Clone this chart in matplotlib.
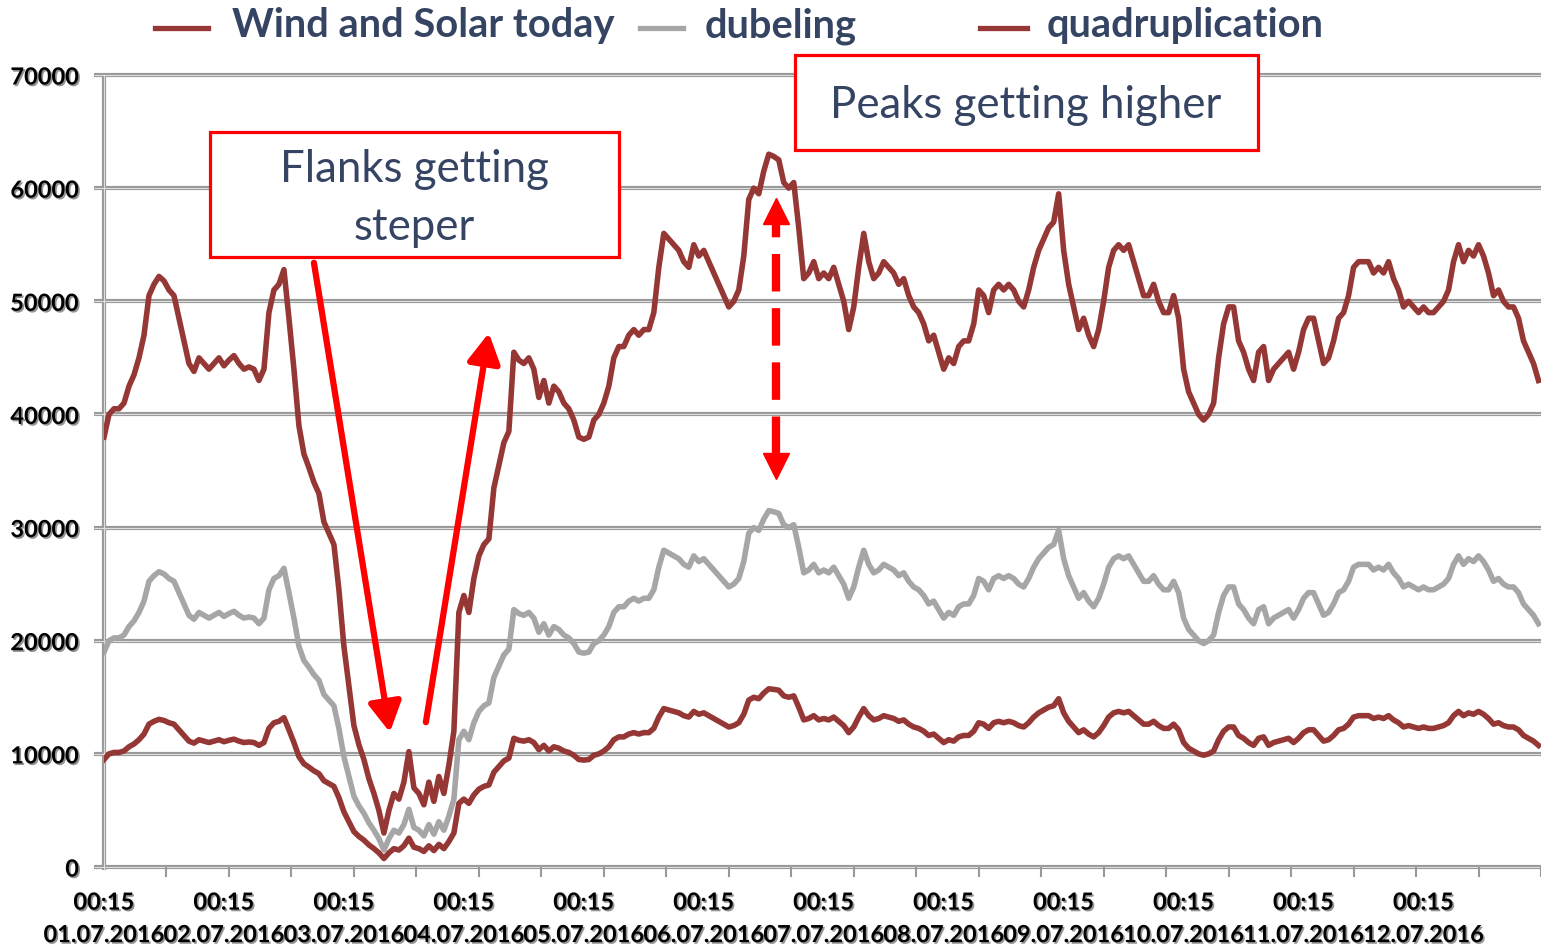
import matplotlib
matplotlib.use("Agg")
import matplotlib.pyplot as plt
import matplotlib.patheffects as pe
from matplotlib.lines import Line2D
from matplotlib.patches import Rectangle
import numpy as np

plt.rcParams['font.family'] = ['Lato', 'DejaVu Sans']

# hourly values, 01.07.2016 00:15 .. 12.07.2016 23:15 (MW)
days = ['01.07.2016', '02.07.2016', '03.07.2016', '04.07.2016', '05.07.2016', '06.07.2016',
        '07.07.2016', '08.07.2016', '09.07.2016', '10.07.2016', '11.07.2016', '12.07.2016']

today = [
    9500, 10000, 10125, 10125, 10250, 10625, 10875, 11250, 11750, 12625, 12875, 13050,
    12950, 12750, 12625, 12125, 11625, 11125, 10950, 11250, 11125, 11000, 11125, 11250,
    11075, 11200, 11300, 11125, 11000, 11050, 11000, 10750, 11000, 12250, 12750, 12875,
    13200, 12125, 11000, 9750, 9125, 8825, 8500, 8250, 7625, 7375, 7125, 6125,
    4875, 4000, 3125, 2700, 2375, 1950, 1625, 1250, 750, 1250, 1625, 1500,
    1875, 2550, 1750, 1625, 1375, 1875, 1450, 2000, 1625, 2250, 3000, 5625,
    6000, 5625, 6375, 6875, 7125, 7250, 8375, 8875, 9375, 9625, 11375, 11200,
    11125, 11250, 11000, 10375, 10750, 10250, 10625, 10500, 10250, 10125, 9875, 9500,
    9450, 9500, 9875, 10000, 10250, 10625, 11250, 11500, 11500, 11750, 11875, 11750,
    11875, 11875, 12250, 13250, 14000, 13875, 13750, 13625, 13375, 13250, 13750, 13500,
    13625, 13375, 13125, 12875, 12625, 12375, 12500, 12750, 13500, 14750, 15000, 14875,
    15375, 15750, 15700, 15625, 15125, 15000, 15125, 14125, 13000, 13125, 13375, 13000,
    13125, 13000, 13250, 12875, 12500, 11875, 12375, 13250, 14000, 13375, 13000, 13125,
    13375, 13250, 13125, 12875, 13000, 12625, 12375, 12250, 12000, 11625, 11750, 11375,
    11000, 11250, 11125, 11500, 11625, 11625, 12000, 12750, 12625, 12250, 12750, 12875,
    12750, 12875, 12750, 12500, 12375, 12750, 13250, 13625, 13875, 14125, 14250, 14875,
    13625, 12875, 12375, 11875, 12125, 11750, 11500, 11875, 12500, 13250, 13625, 13750,
    13625, 13750, 13375, 13000, 12625, 12625, 12875, 12500, 12250, 12250, 12625, 12125,
    11000, 10500, 10250, 10000, 9875, 10000, 10250, 11250, 12000, 12375, 12375, 11625,
    11375, 11000, 10750, 11375, 11500, 10750, 11000, 11125, 11250, 11375, 11000, 11375,
    11875, 12125, 12125, 11625, 11125, 11250, 11625, 12125, 12250, 12625, 13250, 13375,
    13375, 13375, 13125, 13250, 13125, 13375, 13000, 12750, 12375, 12500, 12375, 12250,
    12375, 12250, 12250, 12375, 12500, 12750, 13375, 13750, 13375, 13625, 13500, 13750,
    13500, 13125, 12625, 12750, 12500, 12375, 12375, 12125, 11625, 11375, 11125, 10750,
]

doubling = [
    19000, 20000, 20250, 20250, 20500, 21250, 21750, 22500, 23500, 25250, 25750, 26100,
    25900, 25500, 25250, 24250, 23250, 22250, 21900, 22500, 22250, 22000, 22250, 22500,
    22150, 22400, 22600, 22250, 22000, 22100, 22000, 21500, 22000, 24500, 25500, 25750,
    26400, 24250, 22000, 19500, 18250, 17650, 17000, 16500, 15250, 14750, 14250, 12250,
    9750, 8000, 6250, 5400, 4750, 3900, 3250, 2500, 1500, 2500, 3250, 3000,
    3750, 5100, 3500, 3250, 2750, 3750, 2900, 4000, 3250, 4500, 6000, 11250,
    12000, 11250, 12750, 13750, 14250, 14500, 16750, 17750, 18750, 19250, 22750, 22400,
    22250, 22500, 22000, 20750, 21500, 20500, 21250, 21000, 20500, 20250, 19750, 19000,
    18900, 19000, 19750, 20000, 20500, 21250, 22500, 23000, 23000, 23500, 23750, 23500,
    23750, 23750, 24500, 26500, 28000, 27750, 27500, 27250, 26750, 26500, 27500, 27000,
    27250, 26750, 26250, 25750, 25250, 24750, 25000, 25500, 27000, 29500, 30000, 29750,
    30750, 31500, 31400, 31250, 30250, 30000, 30250, 28250, 26000, 26250, 26750, 26000,
    26250, 26000, 26500, 25750, 25000, 23750, 24750, 26500, 28000, 26750, 26000, 26250,
    26750, 26500, 26250, 25750, 26000, 25250, 24750, 24500, 24000, 23250, 23500, 22750,
    22000, 22500, 22250, 23000, 23250, 23250, 24000, 25500, 25250, 24500, 25500, 25750,
    25500, 25750, 25500, 25000, 24750, 25500, 26500, 27250, 27750, 28250, 28500, 29750,
    27250, 25750, 24750, 23750, 24250, 23500, 23000, 23750, 25000, 26500, 27250, 27500,
    27250, 27500, 26750, 26000, 25250, 25250, 25750, 25000, 24500, 24500, 25250, 24250,
    22000, 21000, 20500, 20000, 19750, 20000, 20500, 22500, 24000, 24750, 24750, 23250,
    22750, 22000, 21500, 22750, 23000, 21500, 22000, 22250, 22500, 22750, 22000, 22750,
    23750, 24250, 24250, 23250, 22250, 22500, 23250, 24250, 24500, 25250, 26500, 26750,
    26750, 26750, 26250, 26500, 26250, 26750, 26000, 25500, 24750, 25000, 24750, 24500,
    24750, 24500, 24500, 24750, 25000, 25500, 26750, 27500, 26750, 27250, 27000, 27500,
    27000, 26250, 25250, 25500, 25000, 24750, 24750, 24250, 23250, 22750, 22250, 21500,
]

quadruple = [
    38000, 40000, 40500, 40500, 41000, 42500, 43500, 45000, 47000, 50500, 51500, 52200,
    51800, 51000, 50500, 48500, 46500, 44500, 43800, 45000, 44500, 44000, 44500, 45000,
    44300, 44800, 45200, 44500, 44000, 44200, 44000, 43000, 44000, 49000, 51000, 51500,
    52800, 48500, 44000, 39000, 36500, 35300, 34000, 33000, 30500, 29500, 28500, 24500,
    19500, 16000, 12500, 10800, 9500, 7800, 6500, 5000, 3000, 5000, 6500, 6000,
    7500, 10200, 7000, 6500, 5500, 7500, 5800, 8000, 6500, 9000, 12000, 22500,
    24000, 22500, 25500, 27500, 28500, 29000, 33500, 35500, 37500, 38500, 45500, 44800,
    44500, 45000, 44000, 41500, 43000, 41000, 42500, 42000, 41000, 40500, 39500, 38000,
    37800, 38000, 39500, 40000, 41000, 42500, 45000, 46000, 46000, 47000, 47500, 47000,
    47500, 47500, 49000, 53000, 56000, 55500, 55000, 54500, 53500, 53000, 55000, 54000,
    54500, 53500, 52500, 51500, 50500, 49500, 50000, 51000, 54000, 59000, 60000, 59500,
    61500, 63000, 62800, 62500, 60500, 60000, 60500, 56500, 52000, 52500, 53500, 52000,
    52500, 52000, 53000, 51500, 50000, 47500, 49500, 53000, 56000, 53500, 52000, 52500,
    53500, 53000, 52500, 51500, 52000, 50500, 49500, 49000, 48000, 46500, 47000, 45500,
    44000, 45000, 44500, 46000, 46500, 46500, 48000, 51000, 50500, 49000, 51000, 51500,
    51000, 51500, 51000, 50000, 49500, 51000, 53000, 54500, 55500, 56500, 57000, 59500,
    54500, 51500, 49500, 47500, 48500, 47000, 46000, 47500, 50000, 53000, 54500, 55000,
    54500, 55000, 53500, 52000, 50500, 50500, 51500, 50000, 49000, 49000, 50500, 48500,
    44000, 42000, 41000, 40000, 39500, 40000, 41000, 45000, 48000, 49500, 49500, 46500,
    45500, 44000, 43000, 45500, 46000, 43000, 44000, 44500, 45000, 45500, 44000, 45500,
    47500, 48500, 48500, 46500, 44500, 45000, 46500, 48500, 49000, 50500, 53000, 53500,
    53500, 53500, 52500, 53000, 52500, 53500, 52000, 51000, 49500, 50000, 49500, 49000,
    49500, 49000, 49000, 49500, 50000, 51000, 53500, 55000, 53500, 54500, 54000, 55000,
    54000, 52500, 50500, 51000, 50000, 49500, 49500, 48500, 46500, 45500, 44500, 43000,
]

hours = np.arange(len(quadruple))

RED = '#953735'
GREY = '#a6a6a6'
NAVY = '#354463'
W, H = 1541, 949

fig = plt.figure(figsize=(W / 100, H / 100), dpi=100)
ax = fig.add_axes([104 / W, 1 - 867 / H, 1437 / W, 792 / H])

# double grid lines, Excel style
trans_y = ax.get_yaxis_transform()
for v in range(0, 70001, 10000):
    ax.plot([-0.007, 1], [v, v], transform=trans_y, color='#999999', lw=3.0,
            clip_on=False, zorder=1, solid_capstyle='butt')
    ax.plot([-0.007, 1], [v, v], transform=trans_y, color='#dedede', lw=0.8,
            clip_on=False, zorder=1.1, solid_capstyle='butt')
trans_x = ax.get_xaxis_transform()
ax.plot([0, 0], [-0.004, 1], transform=trans_x, color='#999999', lw=3.0,
        clip_on=False, zorder=1, solid_capstyle='butt')
ax.plot([0, 0], [-0.004, 1], transform=trans_x, color='#dedede', lw=0.8,
        clip_on=False, zorder=1.1, solid_capstyle='butt')

ax.plot(hours, today, color=RED, lw=4.0, zorder=3, solid_joinstyle='round')
ax.plot(hours, doubling, color=GREY, lw=4.0, zorder=3.1, solid_joinstyle='round')
ax.plot(hours, quadruple, color=RED, lw=4.0, zorder=3.2, solid_joinstyle='round')

ax.set_xlim(0, 287.4)
ax.set_ylim(0, 70000)
for s in ax.spines.values():
    s.set_visible(False)

shadow = [pe.withSimplePatchShadow(offset=(1.2, -1.2), shadow_rgbFace='#666666', alpha=0.7)]

ax.set_yticks(range(0, 70001, 10000))
ax.set_yticklabels([str(v) for v in range(0, 70001, 10000)], fontsize=17,
                   fontweight='bold', path_effects=shadow)
ax.tick_params(axis='y', length=0, pad=18)

ax.set_xticks(np.arange(len(days)) * 24)
ax.set_xticklabels(['00:15\n' + d for d in days], fontsize=17, fontweight='bold',
                   path_effects=shadow)
for lab in ax.get_xticklabels():
    lab.set_linespacing(1.5)
ax.set_xticks(np.arange(0, 288, 12.5), minor=True)
ax.tick_params(axis='x', which='major', length=0, pad=17)
ax.tick_params(axis='x', which='minor', length=7, width=1.5, color='#999999')

# arrows
red = '#ff0000'
ax.annotate('', xy=(57.2, 11900), xytext=(42, 53400),
            arrowprops=dict(arrowstyle='-|>,head_length=0.9,head_width=0.5', color=red,
                            lw=4.5, mutation_scale=20, shrinkA=0, shrinkB=0),
            annotation_clip=False, zorder=6)
ax.annotate('', xy=(77, 47200), xytext=(64.4, 12800),
            arrowprops=dict(arrowstyle='-|>,head_length=0.9,head_width=0.5', color=red,
                            lw=4.5, mutation_scale=20, shrinkA=0, shrinkB=0),
            annotation_clip=False, zorder=6)
ax.plot([134.4, 134.4], [36500, 57000], color=red, lw=6, dashes=(4.5, 2), zorder=6,
        solid_capstyle='butt', dash_capstyle='butt')
ax.plot(134.4, 58000, marker='^', ms=19, color=red, zorder=6)
ax.plot(134.4, 35450, marker='v', ms=19, color=red, zorder=6)

# text boxes
fig.add_artist(Rectangle((210 / W, 1 - 257 / H), 409 / W, 125 / H, transform=fig.transFigure,
                         facecolor='white', edgecolor=red, lw=2.3, zorder=5))
fig.text(414 / W, 1 - 170 / H, 'Flanks getting', fontsize=31.5, color=NAVY,
         ha='center', va='center', zorder=6)
fig.text(414 / W, 1 - 228 / H, 'steper', fontsize=31.5, color=NAVY,
         ha='center', va='center', zorder=6)
fig.add_artist(Rectangle((795 / W, 1 - 150 / H), 463 / W, 95 / H, transform=fig.transFigure,
                         facecolor='white', edgecolor=red, lw=2.3, zorder=5))
fig.text(1026 / W, 1 - 106 / H, 'Peaks getting higher', fontsize=31.5, color=NAVY,
         ha='center', va='center', zorder=6)

# legend
entries = [('Wind and Solar today', RED, 155, 208, 232),
           ('dubeling', GREY, 640, 683, 705),
           ('quadruplication', RED, 980, 1027, 1047)]
for name, col, x0, x1, xt in entries:
    fig.add_artist(Line2D([x0 / W, x1 / W], [1 - 28 / H, 1 - 28 / H], color=col, lw=3.8,
                          transform=fig.transFigure))
    fig.text(xt / W, 1 - 26 / H, name, fontsize=28.7, fontweight='bold', color=NAVY,
             ha='left', va='center')

fig.savefig('out.png', dpi=100)
